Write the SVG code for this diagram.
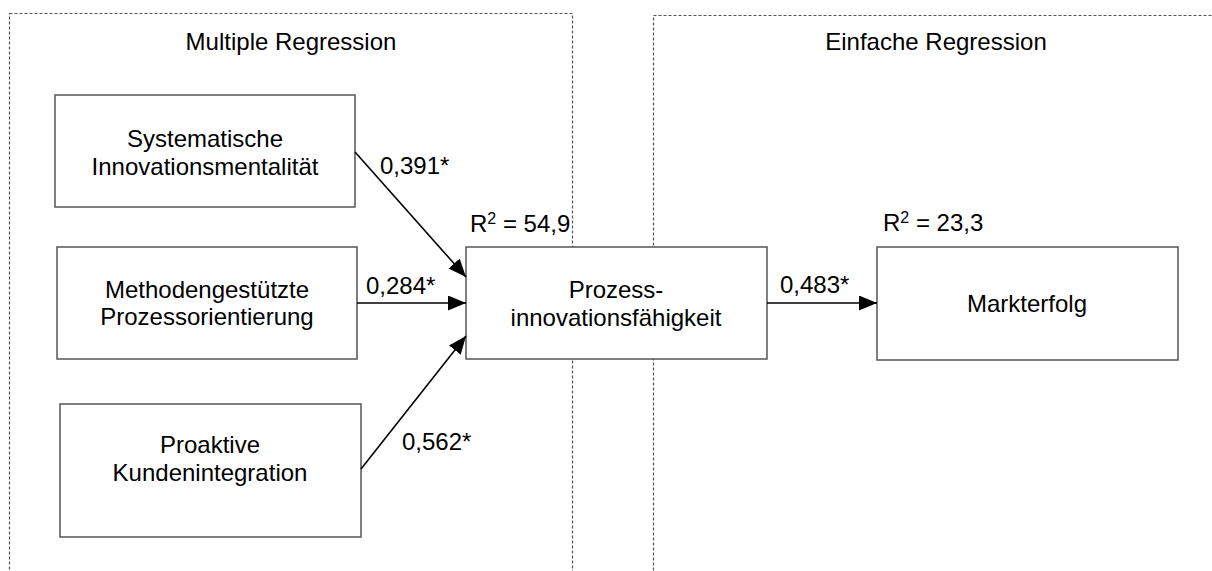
<svg xmlns="http://www.w3.org/2000/svg" width="1212" height="571" viewBox="0 0 1212 571">
<defs>
<marker id="ah" markerUnits="userSpaceOnUse" markerWidth="19" markerHeight="15" refX="18" refY="7.5" orient="auto">
<path d="M0,0 L18,7.5 L0,15 z" fill="#000"/>
</marker>
<style>
.t{font-family:"Liberation Sans",Arial,sans-serif;font-size:24px;fill:#000}
.c{text-anchor:middle}
.box{fill:#fff;stroke:#555;stroke-width:1.5}
.frame{fill:none;stroke:#555;stroke-width:1.2;stroke-dasharray:3 2}
.edge{stroke:#000;stroke-width:1.6;fill:none;marker-end:url(#ah)}
</style>
</defs>
<rect width="1212" height="571" fill="#fff"/>
<g id="frames">
<rect class="frame" x="9.5" y="13.5" width="563" height="600"/>
<rect class="frame" x="653.5" y="15.5" width="600" height="600"/>
<text class="t c" x="291" y="50">Multiple Regression</text>
<text class="t c" x="936" y="50">Einfache Regression</text>
</g>
<g id="node-sim">
<rect class="box" x="55" y="95" width="300" height="112"/>
<text class="t c" x="205" y="147">Systematische</text>
<text class="t c" x="205" y="175">Innovationsmentalität</text>
</g>
<g id="node-mpo">
<rect class="box" x="57" y="247" width="300" height="112"/>
<text class="t c" x="207" y="298">Methodengestützte</text>
<text class="t c" x="207" y="325">Prozessorientierung</text>
</g>
<g id="node-pki">
<rect class="box" x="60" y="404" width="301" height="133"/>
<text class="t c" x="210" y="453">Proaktive</text>
<text class="t c" x="210" y="481">Kundenintegration</text>
</g>
<g id="node-pif">
<rect class="box" x="466" y="247" width="301" height="112"/>
<text class="t c" x="616" y="298">Prozess-</text>
<text class="t c" x="616" y="326">innovationsfähigkeit</text>
<text class="t" x="470" y="232">R<tspan font-size="16" dy="-8">2</tspan><tspan dy="8"> = 54,9</tspan></text>
</g>
<g id="node-mkt">
<rect class="box" x="877" y="247" width="301" height="113"/>
<text class="t c" x="1027" y="312">Markterfolg</text>
<text class="t" x="883" y="231">R<tspan font-size="16" dy="-8">2</tspan><tspan dy="8"> = 23,3</tspan></text>
</g>
<g id="connectors">
<line class="edge" x1="355" y1="152" x2="466" y2="277"/>
<line class="edge" x1="357" y1="303" x2="466" y2="303"/>
<line class="edge" x1="361" y1="469" x2="466" y2="336"/>
<line class="edge" x1="767" y1="303" x2="877" y2="303"/>
<text class="t" x="380" y="174">0,391*</text>
<text class="t" x="366" y="294">0,284*</text>
<text class="t" x="402" y="450">0,562*</text>
<text class="t" x="780" y="293">0,483*</text>
</g>
</svg>
